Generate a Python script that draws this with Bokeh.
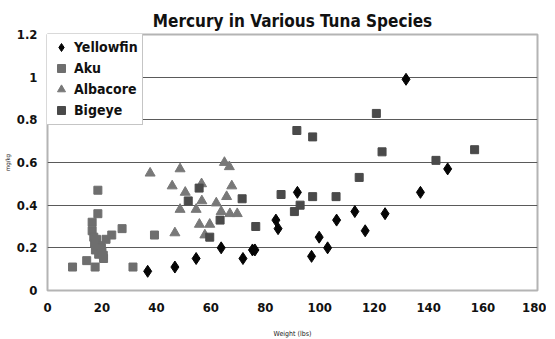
from bokeh.plotting import figure
from bokeh.models import (Range1d, FixedTicker, PrintfTickFormatter, Legend, LegendItem)
from bokeh.embed import file_html
from bokeh.resources import INLINE

# ---- data ----
yellowfin_w = [36.8, 46.8, 54.6, 63.8, 71.8, 75.3, 76.2, 83.9, 84.7, 91.8, 97.0, 99.8, 102.9, 106.2, 112.9, 116.7, 124.0, 131.7, 137.0, 147.0]
yellowfin_hg = [0.09, 0.11, 0.15, 0.20, 0.15, 0.19, 0.19, 0.33, 0.29, 0.46, 0.16, 0.25, 0.20, 0.33, 0.37, 0.28, 0.36, 0.99, 0.46, 0.57]

aku_w = [9.2, 14.4, 17.5, 18.5, 18.5, 16.4, 16.4, 17.0, 18.0, 17.6, 18.8, 20.0, 20.6, 19.4, 21.5, 23.6, 27.4, 31.4, 39.3, 17.3, 19.8, 20.5]
aku_hg = [0.11, 0.14, 0.11, 0.47, 0.36, 0.32, 0.28, 0.25, 0.24, 0.19, 0.17, 0.18, 0.15, 0.21, 0.24, 0.26, 0.29, 0.11, 0.26, 0.22, 0.20, 0.165]

albacore_w = [37.7, 45.8, 46.8, 48.7, 48.7, 50.6, 54.6, 55.8, 56.6, 56.7, 57.8, 59.6, 62.0, 63.8, 65.0, 66.8, 65.8, 67.0, 67.7, 69.7]
albacore_hg = [0.55, 0.49, 0.27, 0.57, 0.38, 0.46, 0.38, 0.31, 0.50, 0.42, 0.26, 0.31, 0.41, 0.37, 0.60, 0.58, 0.44, 0.36, 0.49, 0.36]

bigeye_w = [51.7, 55.7, 59.6, 63.4, 71.5, 76.5, 85.8, 90.7, 91.6, 92.8, 97.4, 97.4, 106.0, 114.5, 120.8, 122.9, 142.7, 156.9]
bigeye_hg = [0.42, 0.48, 0.25, 0.33, 0.43, 0.30, 0.45, 0.37, 0.75, 0.40, 0.72, 0.44, 0.44, 0.53, 0.83, 0.65, 0.61, 0.66]

x_ticks = [0, 20, 40, 60, 80, 100, 120, 140, 160, 180]
y_ticks = [0, 0.2, 0.4, 0.6, 0.8, 1.0, 1.2]
grid_ticks = [0.2, 0.4, 0.6, 0.8, 1.0]

title_text = "Mercury in Various Tuna Species"
x_label = "Weight (lbs)"
y_label = "mg/kg"

FONT = "DejaVu Sans Condensed"

p = figure(frame_width=490, frame_height=256, output_backend="svg", toolbar_location=None,
           x_range=Range1d(0, 180), y_range=Range1d(0, 1.2), title=title_text)
p.min_border_left = 45
p.min_border_right = 9
p.min_border_top = 34
p.min_border_bottom = 40
p.background_fill_color = "white"
p.border_fill_color = "white"
p.outline_line_color = "#b4b4b4"
p.outline_line_width = 2

p.title.text_font = FONT
p.title.text_font_style = "bold"
p.title.text_font_size = "17px"
p.title.text_color = "#111111"
p.title.align = "center"
p.title.standoff = 7

p.xgrid.grid_line_color = None
p.ygrid.ticker = FixedTicker(ticks=grid_ticks)
p.ygrid.grid_line_color = "#5a5a5a"
p.ygrid.grid_line_width = 1

for ax in (p.xaxis[0], p.yaxis[0]):
    ax.axis_line_color = None
    ax.major_tick_line_color = None
    ax.minor_tick_line_color = None
    ax.major_tick_in = 0
    ax.major_tick_out = 0
    ax.minor_tick_in = 0
    ax.minor_tick_out = 0
    ax.major_label_text_font = FONT
    ax.major_label_text_font_style = "bold"
    ax.major_label_text_font_size = "13px"
    ax.major_label_text_color = "#111111"
    ax.axis_label_text_font = FONT
    ax.axis_label_text_font_style = "normal"
    ax.axis_label_text_color = "#222222"

p.xaxis.ticker = FixedTicker(ticks=x_ticks)
p.yaxis.ticker = FixedTicker(ticks=y_ticks)
p.yaxis.formatter = PrintfTickFormatter(format="%g")
p.xaxis.major_label_standoff = 12
p.yaxis.major_label_standoff = 10
p.xaxis.axis_label = x_label
p.yaxis.axis_label = y_label
p.xaxis.axis_label_text_font_size = "7px"
p.yaxis.axis_label_text_font_size = "6px"
p.xaxis.axis_label_standoff = 15
p.yaxis.axis_label_standoff = 3

r_yf = p.scatter(yellowfin_w, yellowfin_hg, marker="diamond", size=12,
                 fill_color="#050505", line_color="#050505")
r_aku = p.scatter(aku_w, aku_hg, marker="square", size=8,
                  fill_color="#6e6e6e", line_color="#6e6e6e")
r_alb = p.scatter(albacore_w, albacore_hg, marker="triangle", size=10,
                  fill_color="#787878", line_color="#787878")
r_big = p.scatter(bigeye_w, bigeye_hg, marker="square", size=8,
                  fill_color="#4a4a4a", line_color="#4a4a4a")

legend = Legend(items=[
    LegendItem(label="Yellowfin", renderers=[r_yf]),
    LegendItem(label="Aku", renderers=[r_aku]),
    LegendItem(label="Albacore", renderers=[r_alb]),
    LegendItem(label="Bigeye", renderers=[r_big]),
], location=(-1, 165))
legend.label_text_font = FONT
legend.label_text_font_style = "bold"
legend.label_text_font_size = "14px"
legend.label_text_color = "#111111"
legend.glyph_width = 20
legend.glyph_height = 20
legend.label_height = 20
legend.spacing = 1
legend.padding = 4
legend.margin = 0
legend.label_standoff = 3
legend.border_line_color = "#8c8c8c"
legend.border_line_width = 1
legend.background_fill_color = "white"
legend.background_fill_alpha = 1
p.add_layout(legend, "center")

open("out.html", "w").write(file_html(p, INLINE))
